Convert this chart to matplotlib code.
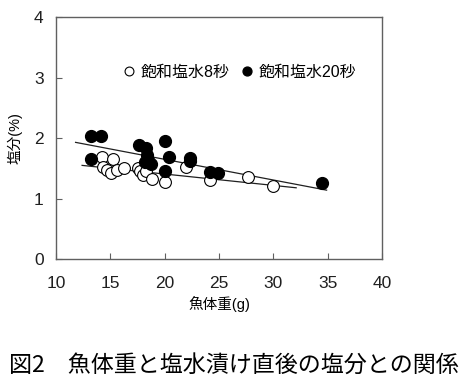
import matplotlib.pyplot as plt
import numpy as np

plt.rcParams['font.family'] = ['Liberation Sans', 'Noto Sans CJK JP', 'DejaVu Sans']

# 飽和塩水8秒 (open circles)
x_8s = [14.2, 15.2, 14.3, 14.7, 15.1, 15.6, 16.3, 17.5, 17.7, 18.0, 18.3, 18.8,
        20.0, 22.0, 24.2, 27.7, 30.0]
y_8s = [1.69, 1.65, 1.53, 1.48, 1.43, 1.48, 1.50, 1.50, 1.46, 1.39, 1.45, 1.32,
        1.27, 1.53, 1.31, 1.36, 1.20]

# 飽和塩水20秒 (filled circles)
x_20s = [13.2, 14.1, 13.2, 17.6, 18.3, 20.0, 18.4, 18.5, 18.7, 18.2, 20.4,
         22.3, 22.3, 20.0, 24.2, 24.9, 34.5]
y_20s = [2.03, 2.03, 1.66, 1.88, 1.83, 1.95, 1.72, 1.64, 1.58, 1.61, 1.69,
         1.67, 1.62, 1.46, 1.44, 1.42, 1.25]

# regression lines: (intercept, slope, x start, x end)
fit_8s = (1.782, -0.0188, 12.4, 32.1)
fit_20s = (2.333, -0.0342, 11.8, 34.9)

fig = plt.figure(figsize=(4.68, 3.89), dpi=100)
ax = fig.add_axes([0.1197, 0.334, 0.6966, 0.622])

for b, m, x0, x1 in (fit_8s, fit_20s):
    xs = np.array([x0, x1])
    ax.plot(xs, b + m * xs, color='#202020', lw=0.9, zorder=1)

ax.plot(x_8s, y_8s, 'o', ms=8.5, mfc='white', mec='black', mew=0.8,
        ls='none', zorder=2, label='飽和塩水8秒')
ax.plot(x_20s, y_20s, 'o', ms=8.5, mfc='black', mec='black',
        ls='none', zorder=3, label='飽和塩水20秒')

ax.set_xlim(10, 40)
ax.set_ylim(0, 4)
ax.set_xticks(range(10, 41, 5))
ax.set_yticks(range(0, 5))
ax.tick_params(direction='in', length=4, width=0.8, color='#606060',
               labelsize=12.5, colors='#202020')
ax.tick_params(axis='x', pad=12)
ax.tick_params(axis='y', pad=9)
for s in ax.spines.values():
    s.set_color('#606060')
    s.set_linewidth(1.0)

ax.set_xlabel('魚体重(g)', fontsize=10.5, labelpad=4)
ax.set_ylabel('塩分(%)', fontsize=10.5, labelpad=8)

ax.legend(loc='center', bbox_to_anchor=(0.565, 0.773), ncol=2, frameon=False,
          fontsize=11.5, markerscale=0.75, handlelength=0.6, handletextpad=0.4,
          columnspacing=0.8)

fig.text(0.5, 0.06, '図2　魚体重と塩水漬け直後の塩分との関係', ha='center',
         va='center', fontsize=16.6, family=['Noto Sans CJK JP', 'DejaVu Sans'])

fig.savefig('out.png', dpi=100)
